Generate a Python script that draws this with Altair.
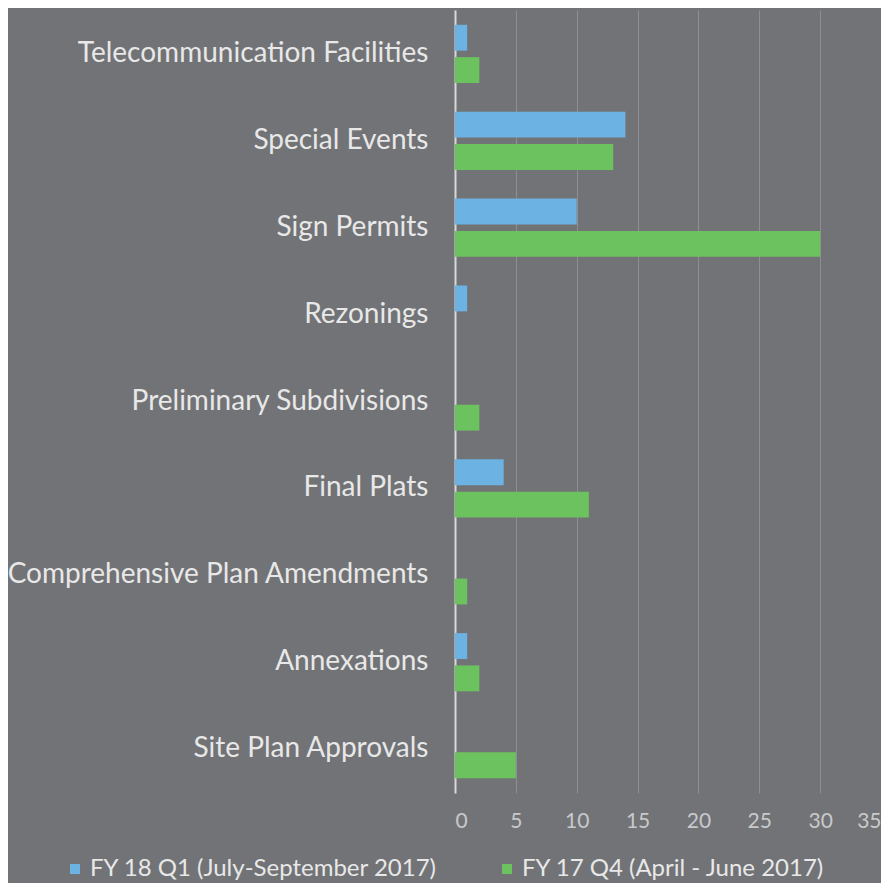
import altair as alt
import pandas as pd

categories = ["Telecommunication Facilities", "Special Events", "Sign Permits", "Rezonings",
              "Preliminary Subdivisions", "Final Plats", "Comprehensive Plan Amendments",
              "Annexations", "Site Plan Approvals"]
series = ["FY 18 Q1 (July-September 2017)", "FY 17 Q4 (April - June 2017)"]
fy18_q1 = [1, 14, 10, 1, 0, 4, 0, 1, 0]
fy17_q4 = [2, 13, 30, 0, 2, 11, 1, 2, 5]
colors = ["#6cb2e2", "#6cc25e"]

rows = []
for c, a, b in zip(categories, fy18_q1, fy17_q4):
    rows.append({"category": c, "series": series[0], "value": a})
    rows.append({"category": c, "series": series[1], "value": b})
df = pd.DataFrame(rows)

FONT = "Lato"

chart = alt.Chart(df).mark_bar().encode(
    y=alt.Y("category:N", sort=categories, title=None,
            scale=alt.Scale(paddingInner=0.33, paddingOuter=0.17),
            axis=alt.Axis(labelFontSize=28, labelColor="#e8e8e8", labelFont=FONT,
                          ticks=False, labelPadding=27, domainColor="#d8d8d8",
                          domainWidth=2, grid=False, labelLimit=500)),
    yOffset=alt.YOffset("series:N", sort=series,
                        scale=alt.Scale(paddingInner=0.2)),
    x=alt.X("value:Q", title=None,
            scale=alt.Scale(domain=[0, 35], nice=False),
            axis=alt.Axis(values=[0, 5, 10, 15, 20, 25, 30, 35], labelFontSize=21,
                          labelColor="#c9c9cb", labelFont=FONT, ticks=False,
                          domain=False, labelPadding=17, gridColor="#8e8f92",
                          gridWidth=1)),
    color=alt.Color("series:N", sort=series,
                    scale=alt.Scale(domain=series, range=colors),
                    legend=alt.Legend(title=None, orient="none", direction="horizontal",
                                      legendX=-392, legendY=847, padding=0,
                                      symbolType="square", symbolSize=100,
                                      symbolStrokeWidth=0, labelFontSize=24,
                                      labelColor="#e8e8e8", labelFont=FONT,
                                      columnPadding=57, labelOffset=3,
                                      labelLimit=500)),
).properties(
    width=426, height=783,
    background="#727376",
    padding={"left": 447, "top": 2, "right": 0, "bottom": 90},
    autosize=alt.AutoSizeParams(type="none"),
).configure_view(stroke=None)

chart.save("out.html", embed_options={"renderer": "svg", "actions": False})
